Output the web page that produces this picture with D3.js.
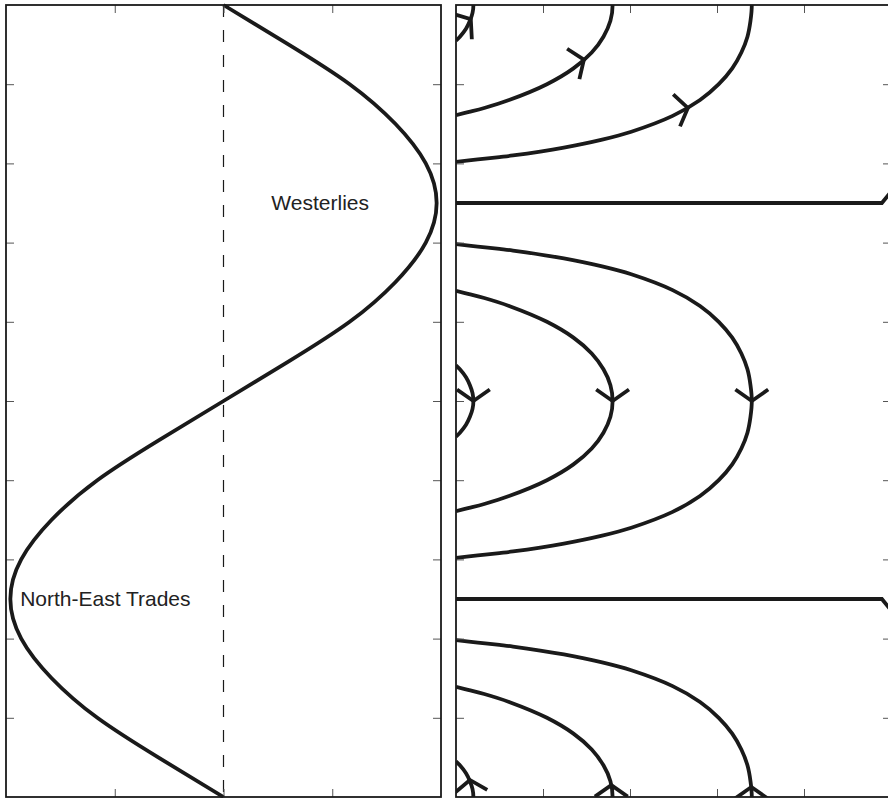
<!DOCTYPE html>
<html>
<head>
<meta charset="utf-8">
<script src="https://cdn.jsdelivr.net/npm/d3@7"></script>
<style>
  body { margin: 0; background: #fff; }
  svg { display: block; }
  text { font-family: "Liberation Sans", Arial, sans-serif; }
</style>
</head>
<body>
<div id="chart"></div>
<script>
// latitude runs 0 (south edge) .. 1 (north edge)
const windLat = [0, 0.05, 0.1, 0.15, 0.2, 0.25, 0.3, 0.35, 0.4, 0.45, 0.5,
                 0.55, 0.6, 0.65, 0.7, 0.75, 0.8, 0.85, 0.9, 0.95, 1];
// zonal wind stress
const windStress = [0, -0.30, -0.58, -0.79, -0.93, -0.98, -0.93, -0.79, -0.58, -0.30, 0,
                    0.30, 0.58, 0.79, 0.93, 0.98, 0.93, 0.79, 0.58, 0.30, 0];

const windLabels = [
  {name: "Westerlies", x: 0.22, lat: 0.75},
  {name: "North-East Trades", x: -0.935, lat: 0.25}
];

// streamlines: half profiles [x, distance in latitude from the gyre axis]
const outerHalf = [[0.680, 0], [0.677, 0.02], [0.670, 0.04], [0.656, 0.06], [0.635, 0.08],
                   [0.604, 0.10], [0.561, 0.12], [0.498, 0.14], [0.403, 0.16], [0.336, 0.17],
                   [0.248, 0.18], [0.131, 0.19], [0.100, 0.192], [0.050, 0.195], [0, 0.198]];
const middleHalf = [[0.360, 0], [0.355, 0.02], [0.339, 0.04], [0.312, 0.06], [0.270, 0.08],
                    [0.209, 0.10], [0.122, 0.12], [0.065, 0.13], [0.030, 0.135], [0, 0.139]];
const innerHalf = [[0.040, 0], [0.038, 0.01], [0.032, 0.02], [0.023, 0.03], [0.009, 0.04], [0, 0.045]];
const gyreAxes = [0, 0.5, 1];

// psi = 0 lines where the wind curl vanishes
const zeroLines = [
  [[0, 0.75], [0.979, 0.75], [1, 0.764]],
  [[0, 0.25], [0.979, 0.25], [1, 0.236]]
];

// arrow tips and heading (deg, 0 = east, counter-clockwise)
const arrows = [
  {x: 0.034, lat: 0.982, heading: 38},
  {x: 0.294, lat: 0.931, heading: 22},
  {x: 0.533, lat: 0.870, heading: 12},
  {x: 0.040, lat: 0.5, heading: -90},
  {x: 0.360, lat: 0.5, heading: -90},
  {x: 0.680, lat: 0.5, heading: -90},
  {x: 0.032, lat: 0.0215, heading: 95},
  {x: 0.357, lat: 0.015, heading: 90},
  {x: 0.679, lat: 0.0126, heading: 90}
];

const leftXTicks = [-0.5, 0, 0.5];
const rightXTicks = [0.2, 0.4, 0.6, 0.8];
const latTicks = [0.1, 0.2, 0.3, 0.4, 0.5, 0.6, 0.7, 0.8, 0.9];

const width = 888, height = 798;
const topY = 5, bottomY = 797;
const tickLen = 8;
const lineW = 3.8;

const svg = d3.select("#chart").append("svg")
  .attr("width", width)
  .attr("height", height);

const y = d3.scaleLinear().domain([0, 1]).range([bottomY, topY]);
const xL = d3.scaleLinear().domain([-1, 1]).range([6, 441]);
const xR = d3.scaleLinear().domain([0, 1]).range([456, 891]);

function frame(x, xticks) {
  const g = svg.append("g");
  const [x0, x1] = x.range();
  // ticks on all four sides, pointing inwards
  g.append("g").attr("transform", `translate(0,${bottomY})`)
    .call(d3.axisTop(x).tickValues(xticks).tickSize(tickLen).tickFormat(""));
  g.append("g").attr("transform", `translate(0,${topY})`)
    .call(d3.axisBottom(x).tickValues(xticks).tickSize(tickLen).tickFormat(""));
  g.append("g").attr("transform", `translate(${x0},0)`)
    .call(d3.axisRight(y).tickValues(latTicks).tickSize(tickLen).tickFormat(""));
  g.append("g").attr("transform", `translate(${x1},0)`)
    .call(d3.axisLeft(y).tickValues(latTicks).tickSize(tickLen).tickFormat(""));
  g.selectAll(".domain").remove();
  g.selectAll(".tick line").attr("stroke", "#555").attr("stroke-width", 1);
  g.append("rect")
    .attr("x", x0).attr("y", topY)
    .attr("width", x1 - x0).attr("height", bottomY - topY)
    .attr("fill", "none")
    .attr("stroke", "#1a1a1a")
    .attr("stroke-width", 1.8);
  return g;
}

// ---- left panel: wind stress ----
svg.append("line")
  .attr("x1", xL(0)).attr("x2", xL(0))
  .attr("y1", y(1)).attr("y2", y(0))
  .attr("stroke", "#1a1a1a")
  .attr("stroke-width", 1.2)
  .attr("stroke-dasharray", "12,13");

const windLine = d3.line()
  .x(d => xL(d))
  .y((d, i) => y(windLat[i]))
  .curve(d3.curveNatural);

svg.append("path")
  .attr("d", windLine(windStress))
  .attr("fill", "none")
  .attr("stroke", "#1a1a1a")
  .attr("stroke-width", lineW);

svg.selectAll("text.wind")
  .data(windLabels)
  .enter().append("text")
    .attr("class", "wind")
    .attr("x", d => xL(d.x))
    .attr("y", d => y(d.lat))
    .attr("dy", "0.35em")
    .attr("font-size", "21px")
    .attr("fill", "#222")
    .text(d => d.name);

frame(xL, leftXTicks);

// ---- right panel: streamlines ----
svg.append("clipPath").attr("id", "clipR")
  .append("rect")
    .attr("x", xR(0)).attr("y", topY)
    .attr("width", xR(1) - xR(0)).attr("height", bottomY - topY);

const flow = svg.append("g").attr("clip-path", "url(#clipR)");

const streamLine = d3.line()
  .x(d => xR(d[0]))
  .y(d => y(d[1]))
  .curve(d3.curveCatmullRom.alpha(0.5));

const halves = [outerHalf, middleHalf, innerHalf];
gyreAxes.forEach(c => {
  halves.forEach(h => {
    // north half from the west edge to the tip, then back along the south half
    const north = h.slice().reverse().map(p => [p[0], c + p[1]]);
    const south = h.slice(1).map(p => [p[0], c - p[1]]);
    flow.append("path")
      .attr("d", streamLine(north.concat(south)))
      .attr("fill", "none")
      .attr("stroke", "#1a1a1a")
      .attr("stroke-width", lineW);
  });
});

zeroLines.forEach(l => {
  flow.append("path")
    .attr("d", d3.line().x(d => xR(d[0])).y(d => y(d[1]))(l))
    .attr("fill", "none")
    .attr("stroke", "#1a1a1a")
    .attr("stroke-width", lineW);
});

const armLen = 20, armSpread = 55 * Math.PI / 180;
flow.selectAll("path.arrow")
  .data(arrows)
  .enter().append("path")
    .attr("class", "arrow")
    .attr("d", d => {
      const tx = xR(d.x), ty = y(d.lat);
      const back = (-d.heading + 180) * Math.PI / 180;
      const a1 = back - armSpread, a2 = back + armSpread;
      return `M${tx + armLen * Math.cos(a1)},${ty + armLen * Math.sin(a1)}` +
             `L${tx},${ty}` +
             `L${tx + armLen * Math.cos(a2)},${ty + armLen * Math.sin(a2)}`;
    })
    .attr("fill", "none")
    .attr("stroke", "#1a1a1a")
    .attr("stroke-width", lineW);

frame(xR, rightXTicks);
</script>
</body>
</html>
